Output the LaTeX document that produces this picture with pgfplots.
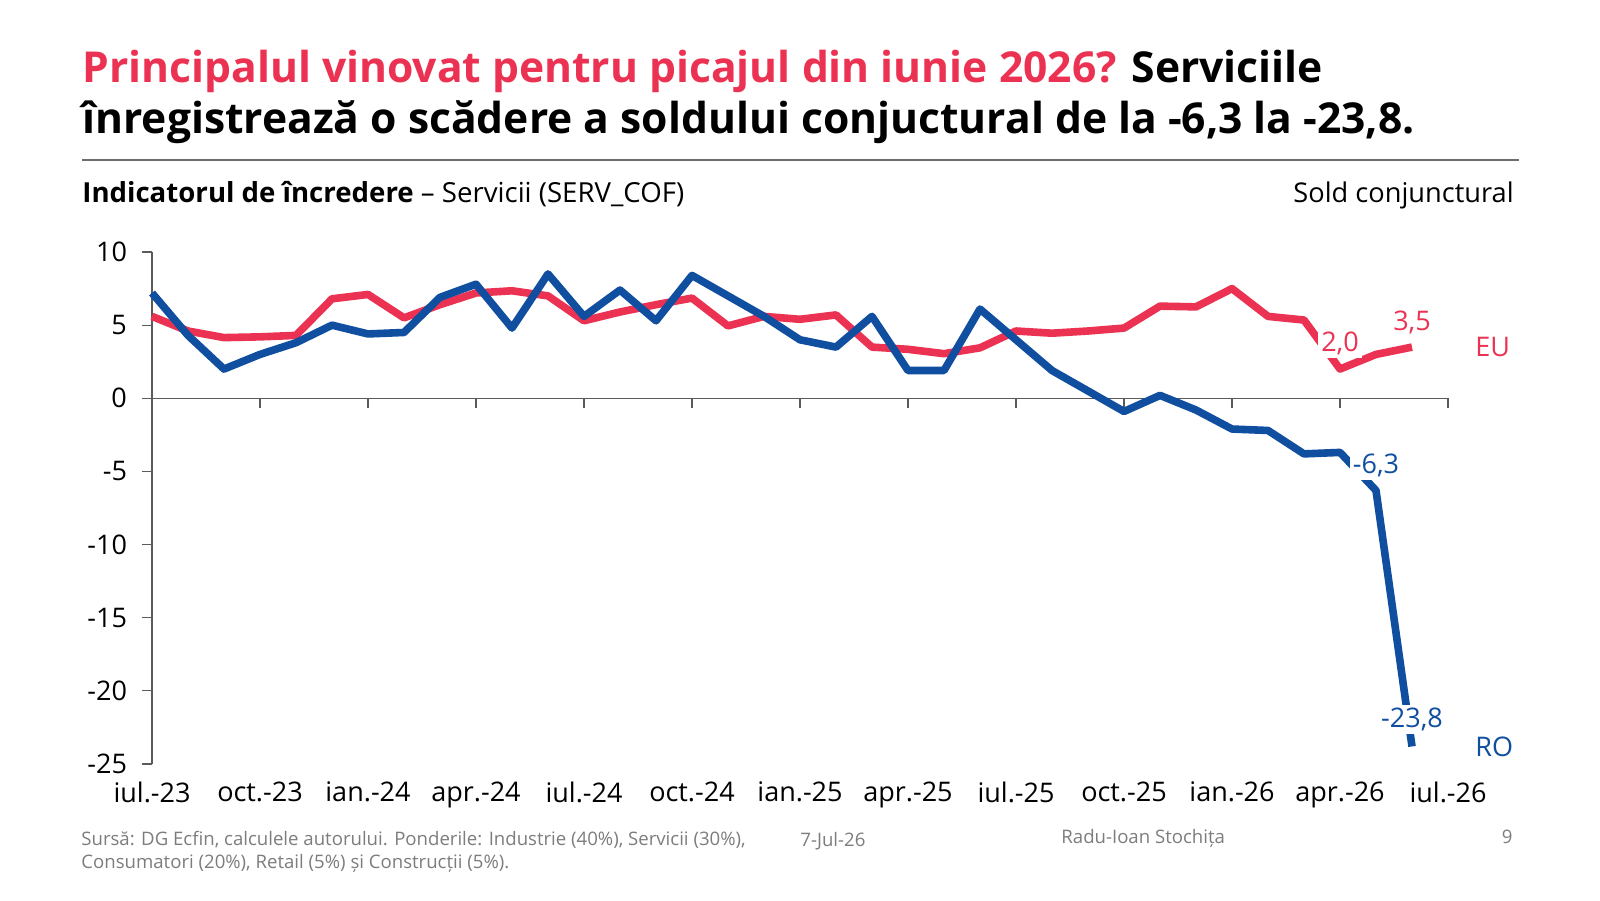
\documentclass[border=0pt]{standalone}
\usepackage{fontspec}
\setmainfont{Open Sans}
\usepackage{pgfplots}
\pgfplotsset{compat=1.18}
\definecolor{roblue}{RGB}{16,78,160}
\definecolor{eured}{RGB}{236,50,82}
\definecolor{axgray}{RGB}{90,90,90}
\definecolor{footgray}{RGB}{125,125,125}
\definecolor{rulegray}{RGB}{110,110,110}

\pgfplotstableread{
x y
0 7.2
1 4.3
2 2.0
3 3.0
4 3.8
5 5.0
6 4.4
7 4.5
8 6.9
9 7.8
10 4.8
11 8.5
12 5.6
13 7.4
14 5.3
15 8.4
16 7.0
17 5.6
18 4.0
19 3.5
20 5.6
21 1.9
22 1.9
23 6.1
24 4.0
25 1.9
26 0.5
27 -0.9
28 0.2
29 -0.8
30 -2.1
31 -2.2
32 -3.8
33 -3.7
34 -6.3
35 -23.8
}\ro

\pgfplotstableread{
x y
0 5.6
1 4.6
2 4.15
3 4.2
4 4.3
5 6.8
6 7.1
7 5.5
8 6.4
9 7.2
10 7.35
11 7.0
12 5.3
13 5.9
14 6.4
15 6.85
16 4.95
17 5.6
18 5.4
19 5.7
20 3.5
21 3.35
22 3.05
23 3.45
24 4.6
25 4.45
26 4.6
27 4.8
28 6.3
29 6.25
30 7.5
31 5.6
32 5.35
33 2.0
34 3.0
35 3.5
}\eu

\begin{document}
\begin{tikzpicture}[x=0.5pt,y=-0.5pt]
\path[fill=white] (0,0) rectangle (1600,900);

% titles
\node[anchor=base west, inner sep=0, font=\fontsize{21.3}{25}\selectfont\bfseries] at (82,82)
  {\textcolor{eured}{Principalul vinovat pentru picajul din iunie 2026?} Serviciile};
\node[anchor=base west, inner sep=0, font=\fontsize{21.3}{25}\selectfont\bfseries] at (82,133)
  {înregistrează o scădere a soldului conjuctural de la -6,3 la -23,8.};
\draw[rulegray, line width=0.7pt] (82,160) -- (1519,160);
\node[anchor=base west, inner sep=0, font=\fontsize{13.8}{16}\selectfont] at (82,202)
  {\textbf{Indicatorul de încredere} – Servicii (SERV\_COF)};
\node[anchor=base east, inner sep=0, font=\fontsize{13.6}{16}\selectfont] at (1514,202)
  {Sold conjunctural};

% zero line with ticks
\begin{axis}[at={(76pt,-382pt)}, anchor=south west, scale only axis,
  width=648pt, height=256pt, xmin=0, xmax=36, ymin=-25, ymax=10,
  axis x line=middle, axis y line=none,
  x axis line style={-, axgray, line width=0.6pt},
  xtick={0,3,...,36}, xticklabels={}, xtick align=outside,
  major tick length=5pt, xtick style={axgray, line width=0.6pt},
  ytick=\empty]
\end{axis}

\begin{axis}[at={(76pt,-382pt)}, anchor=south west, scale only axis,
  width=648pt, height=256pt, xmin=0, xmax=36, ymin=-25, ymax=10,
  axis y line=left, axis x line=bottom,
  y axis line style={-, axgray, line width=0.6pt},
  x axis line style={draw=none},
  ytick={-25,-20,...,10}, ytick align=outside, major tick length=5pt,
  ytick style={axgray, line width=0.6pt},
  xtick={0,3,...,36}, xtick style={draw=none},
  xticklabels={iul.-23,oct.-23,ian.-24,apr.-24,iul.-24,oct.-24,ian.-25,apr.-25,iul.-25,oct.-25,ian.-26,apr.-26,iul.-26},
  /pgf/number format/assume math mode=true,
  ticklabel style={font=\fontsize{13.5}{15}\selectfont},
  yticklabel style={xshift=-4pt},
  xticklabel style={yshift=-3pt},
  clip=false]
\addplot[eured, line width=3.8pt, line join=round] table[x=x,y=y]{\eu};
\addplot[roblue, line width=3.8pt, line join=round] table[x=x,y=y]{\ro};
\node[font=\fontsize{13.5}{15}\selectfont, text=eured, fill=white, inner sep=1.5pt, yshift=13pt] at (axis cs:33,2.0) {2,0};
\node[font=\fontsize{13.5}{15}\selectfont, text=eured, fill=white, inner sep=1.5pt, yshift=12.5pt] at (axis cs:35,3.5) {3,5};
\node[font=\fontsize{13.5}{15}\selectfont, text=roblue, fill=white, inner sep=1.5pt, yshift=12.5pt] at (axis cs:34,-6.3) {-6,3};
\node[font=\fontsize{13.5}{15}\selectfont, text=roblue, fill=white, inner sep=1.5pt, yshift=13.5pt] at (axis cs:35,-23.8) {-23,8};
\end{axis}

\node[anchor=base west, inner sep=0, text=eured, font=\fontsize{13.5}{15}\selectfont] at (1475,356) {EU};
\node[anchor=base west, inner sep=0, text=roblue, font=\fontsize{13.5}{15}\selectfont] at (1475,756) {RO};

% footer
\begin{scope}[every node/.style={inner sep=0, text=footgray, font=\fontsize{9.3}{11}\selectfont}]
\node[anchor=base west] at (81,845) {Sursă: DG Ecfin, calculele autorului. Ponderile: Industrie (40\%), Servicii (30\%),};
\node[anchor=base west] at (81,868) {Consumatori (20\%), Retail (5\%) și Construcții (5\%).};
\node[anchor=base west] at (800,846) {7-Jul-26};
\node[anchor=base west] at (1061,843) {Radu-Ioan Stochița};
\node[anchor=base east] at (1513,843) {9};
\end{scope}
\end{tikzpicture}
\end{document}
